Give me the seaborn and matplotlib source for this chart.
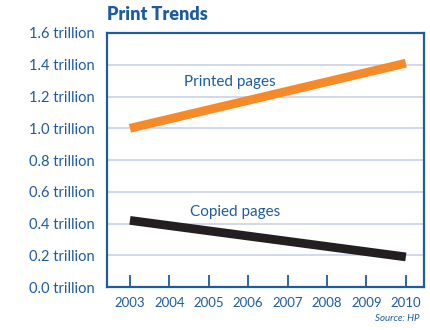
import matplotlib
matplotlib.use("Agg")
import matplotlib.pyplot as plt
import seaborn as sns
import pandas as pd

years = [2003, 2010]
printed_pages = [1.0, 1.41]
copied_pages = [0.42, 0.19]
y_ticks = [0.0, 0.2, 0.4, 0.6, 0.8, 1.0, 1.2, 1.4, 1.6]
x_ticks = [2003, 2004, 2005, 2006, 2007, 2008, 2009, 2010]

BLUE = "#1d5c9f"
ORANGE = "#f68a28"
BLACK = "#231f20"
GRID = "#c9d3e6"

sns.set_theme(style="white")
plt.rcParams["font.family"] = ["Lato", "DejaVu Sans"]

df = pd.DataFrame({
    "year": years * 2,
    "value": printed_pages + copied_pages,
    "series": ["Printed pages"] * 2 + ["Copied pages"] * 2,
})

fig = plt.figure(figsize=(4.3, 3.3), dpi=100)
ax = fig.add_axes([0.249, 0.130, 0.737, 0.770])

sns.lineplot(data=df, x="year", y="value", hue="series",
             palette={"Printed pages": ORANGE, "Copied pages": BLACK},
             linewidth=6.3, legend=False, ax=ax, zorder=3)
for line in ax.get_lines():
    line.set_solid_capstyle("butt")

ax.set_xlim(2002.42, 2010.46)
ax.set_ylim(0, 1.6)
ax.set_yticks(y_ticks)
ax.set_yticklabels([f"{v:.1f} trillion" for v in y_ticks])
ax.set_xticks(x_ticks)
ax.set_xticklabels([str(v) for v in x_ticks])
ax.set_xlabel("")
ax.set_ylabel("")

for v in y_ticks[1:-1]:
    ax.axhline(v, color=GRID, linewidth=1.2, zorder=1)

for s in ax.spines.values():
    s.set_color(BLUE)
    s.set_linewidth(1.6)

ax.tick_params(axis="y", colors=BLUE, labelsize=10.5, length=0, pad=9)
ax.tick_params(axis="x", colors=BLUE, labelsize=9.5, direction="in",
               length=9, width=1.3, pad=7, bottom=True)

ax.text(2005.54, 1.29, "Printed pages", color=BLUE, fontsize=11,
        ha="center", va="center")
ax.text(2005.67, 0.475, "Copied pages", color=BLUE, fontsize=11,
        ha="center", va="center")

fig.text(0.249, 0.955, "Print Trends", color=BLUE, fontsize=13,
         fontweight="heavy", ha="left", va="center")
fig.text(0.975, 0.035, "Source: HP", color=BLUE, fontsize=7,
         style="italic", ha="right", va="center")

fig.savefig("out.png", dpi=100)
